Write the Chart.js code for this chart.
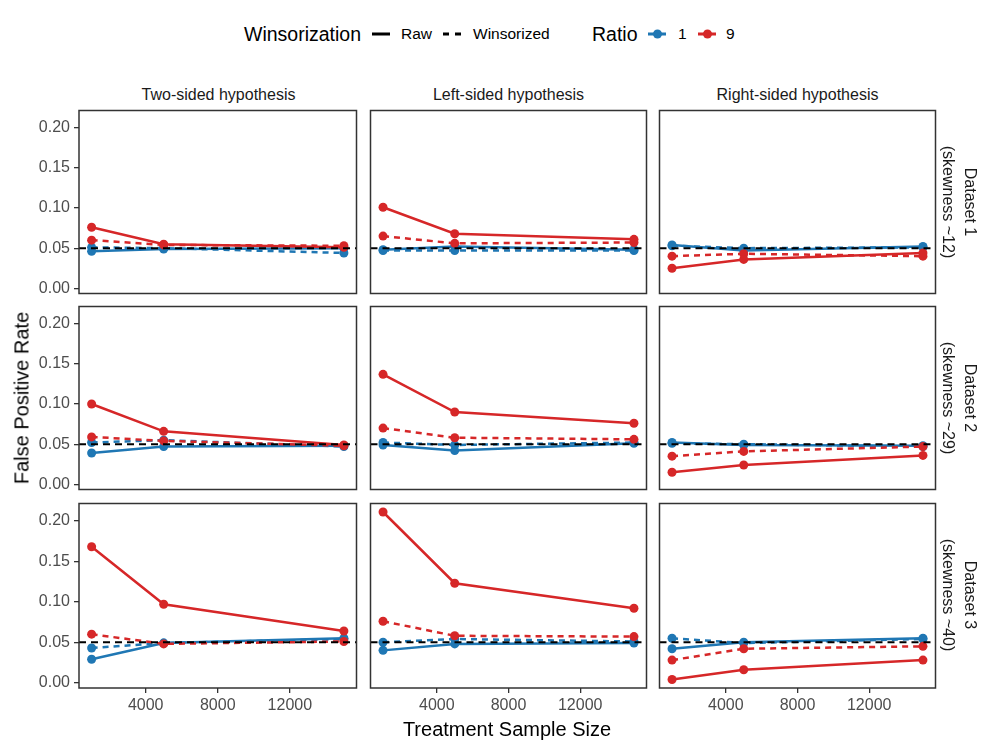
<!DOCTYPE html>
<html>
<head>
<meta charset="utf-8">
<script src="https://cdn.jsdelivr.net/npm/chart.js@4.4.1/dist/chart.umd.min.js"></script>
<style>
  body { margin: 0; background: #fff; font-family: 'Liberation Sans', Arial, sans-serif; }
  #wrap { position: relative; width: 1000px; height: 750px; overflow: hidden; }
  canvas { position: absolute; }
  .t { position: absolute; white-space: nowrap; color: #1a1a1a; transform: translate(-50%, -50%); }
  .strip { font-size: 16px; }
  .rstrip { font-size: 16px; text-align: center; line-height: 22px; transform: translate(-50%, -50%) rotate(90deg); }
  .title { font-size: 20px; color: #000; }
  .lg { position: absolute; white-space: nowrap; color: #000; transform: translateY(-50%); }
  .key { position: absolute; height: 3px; width: 18px; transform: translateY(-50%); }
  .dot { position: absolute; width: 9px; height: 9px; border-radius: 50%; left: 4.5px; top: -3px; }
</style>
</head>
<body>
<div id="wrap"></div>
<script>
const sampleSizes = [1000, 5000, 15000];
const hypotheses = ['Two-sided hypothesis', 'Left-sided hypothesis', 'Right-sided hypothesis'];
const datasetNames = ['Dataset 1', 'Dataset 2', 'Dataset 3'];
const skewLabels = ['(skewness ~12)', '(skewness ~29)', '(skewness ~40)'];
const xTicks = [4000, 8000, 12000];
const yTicks = [0, 0.05, 0.10, 0.15, 0.20];
const nominalRate = 0.05;

// rows = datasets, columns = hypotheses, values at sampleSizes
const ratio1Raw = [
  [[0.046, 0.049, 0.050], [0.048, 0.052, 0.048], [0.054, 0.047, 0.052]],
  [[0.039, 0.047, 0.048], [0.049, 0.042, 0.051], [0.052, 0.049, 0.048]],
  [[0.029, 0.049, 0.055], [0.040, 0.048, 0.049], [0.042, 0.050, 0.055]]
];
const ratio1Wins = [
  [[0.051, 0.050, 0.044], [0.047, 0.047, 0.047], [0.053, 0.050, 0.051]],
  [[0.052, 0.055, 0.047], [0.052, 0.049, 0.052], [0.051, 0.050, 0.047]],
  [[0.043, 0.049, 0.054], [0.050, 0.054, 0.051], [0.055, 0.049, 0.054]]
];
const ratio9Raw = [
  [[0.076, 0.055, 0.051], [0.101, 0.068, 0.061], [0.025, 0.036, 0.044]],
  [[0.100, 0.066, 0.049], [0.137, 0.090, 0.076], [0.015, 0.024, 0.036]],
  [[0.168, 0.097, 0.064], [0.211, 0.123, 0.092], [0.004, 0.016, 0.028]]
];
const ratio9Wins = [
  [[0.060, 0.054, 0.053], [0.065, 0.056, 0.057], [0.040, 0.043, 0.040]],
  [[0.059, 0.054, 0.048], [0.070, 0.058, 0.056], [0.035, 0.041, 0.047]],
  [[0.060, 0.048, 0.051], [0.076, 0.058, 0.057], [0.028, 0.042, 0.045]]
];

const RED = '#d62728', BLUE = '#1f77b4';
const series = [
  { vals: ratio9Raw, color: RED, dash: [] },
  { vals: ratio9Wins, color: RED, dash: [6, 5] },
  { vals: ratio1Raw, color: BLUE, dash: [] },
  { vals: ratio1Wins, color: BLUE, dash: [6, 5] }
];

const colLeft = [79, 369, 658];
const rowTop = [109, 305, 502];
const panelW = 279, panelH = 186;
const pad = 3, yAxisW = 60, xAxisH = 40;

Chart.defaults.font.family = "'Liberation Sans', Arial, sans-serif";

const wrap = document.getElementById('wrap');

// dashed reference line + panel frame
const panelFrame = {
  id: 'panelFrame',
  afterDatasetsDraw(chart) {
    const ctx = chart.ctx, a = chart.chartArea;
    const yy = chart.scales.y.getPixelForValue(nominalRate);
    ctx.save();
    ctx.strokeStyle = '#000';
    ctx.lineWidth = 2;
    ctx.setLineDash([7, 5]);
    ctx.beginPath();
    ctx.moveTo(a.left, yy);
    ctx.lineTo(a.right, yy);
    ctx.stroke();
    ctx.setLineDash([]);
    ctx.strokeStyle = '#333';
    ctx.lineWidth = 1.5;
    ctx.strokeRect(a.left, a.top, a.right - a.left, a.bottom - a.top);
    ctx.restore();
  }
};

function fixBox(s, size) {
  if (!s.options.display) return;
  if (s.isHorizontal()) s.height = size; else s.width = size;
  s.paddingTop = 0; s.paddingBottom = 0; s.paddingLeft = 0; s.paddingRight = 0;
}

for (let r = 0; r < 3; r++) {
  for (let c = 0; c < 3; c++) {
    const showY = c === 0, showX = r === 2;
    const cv = document.createElement('canvas');
    const w = pad * 2 + panelW + (showY ? yAxisW : 0);
    const h = pad * 2 + panelH + (showX ? xAxisH : 0);
    cv.width = w; cv.height = h;
    cv.style.left = (colLeft[c] - pad - (showY ? yAxisW : 0)) + 'px';
    cv.style.top = (rowTop[r] - pad) + 'px';
    wrap.appendChild(cv);

    new Chart(cv.getContext('2d'), {
      type: 'line',
      data: {
        datasets: series.map(s => ({
          data: sampleSizes.map((x, i) => ({ x: x, y: s.vals[r][c][i] })),
          borderColor: s.color,
          backgroundColor: s.color,
          borderWidth: 2.5,
          borderDash: s.dash,
          pointRadius: 4.5,
          pointBorderWidth: 0,
          pointHoverRadius: 4.5,
          tension: 0
        }))
      },
      options: {
        responsive: false,
        animation: false,
        events: [],
        layout: { padding: pad },
        plugins: { legend: { display: false }, tooltip: { enabled: false } },
        scales: {
          x: {
            type: 'linear',
            min: 300,
            max: 15700,
            display: showX,
            afterBuildTicks: s => { s.ticks = xTicks.map(v => ({ value: v })); },
            afterFit: s => fixBox(s, xAxisH),
            grid: { drawOnChartArea: false, drawTicks: true, tickLength: 5, color: '#333', lineWidth: 1.3 },
            border: { display: false },
            ticks: { color: '#4d4d4d', font: { size: 16 }, padding: 3, maxRotation: 0, autoSkip: false, callback: v => String(v) }
          },
          y: {
            type: 'linear',
            min: -0.0065,
            max: 0.2215,
            display: showY,
            afterBuildTicks: s => { s.ticks = yTicks.map(v => ({ value: v })); },
            afterFit: s => fixBox(s, yAxisW),
            grid: { drawOnChartArea: false, drawTicks: true, tickLength: 5, color: '#333', lineWidth: 1.3 },
            border: { display: false },
            ticks: { color: '#4d4d4d', font: { size: 16 }, padding: 4, callback: v => v.toFixed(2) }
          }
        }
      },
      plugins: [panelFrame]
    });
  }
}

function addText(cls, html, x, y) {
  const d = document.createElement('div');
  d.className = cls;
  d.innerHTML = html;
  d.style.left = x + 'px';
  d.style.top = y + 'px';
  wrap.appendChild(d);
  return d;
}

hypotheses.forEach((hName, c) => addText('t strip', hName, colLeft[c] + panelW / 2, 95));
datasetNames.forEach((dName, r) => addText('t rstrip', dName + '<br>' + skewLabels[r], 959, rowTop[r] + panelH / 2));

addText('t title', 'Treatment Sample Size', 507, 729);
const yt = addText('t title', 'False Positive Rate', 22, 398);
yt.style.transform = 'translate(-50%, -50%) rotate(-90deg)';

// legend
const legY = 34;
const lg = (txt, x, size) => { const d = addText('lg', txt, x, legY); d.style.fontSize = size + 'px'; };
const key = (x, bg) => {
  const k = document.createElement('div');
  k.className = 'key';
  k.style.left = x + 'px';
  k.style.top = legY + 'px';
  k.style.background = bg;
  wrap.appendChild(k);
  return k;
};
lg('Winsorization', 244, 19.5);
key(372, '#000');
lg('Raw', 401, 15.5);
key(443, 'repeating-linear-gradient(to right, #000 0 6px, transparent 6px 12px)');
lg('Winsorized', 473, 15.5);
lg('Ratio', 592, 19.5);
[[648, BLUE, '1', 678], [698, RED, '9', 726]].forEach(([kx, col, lab, tx]) => {
  const k = key(kx, col);
  const d = document.createElement('div');
  d.className = 'dot';
  d.style.background = col;
  k.appendChild(d);
  lg(lab, tx, 15.5);
});
</script>
</body>
</html>
